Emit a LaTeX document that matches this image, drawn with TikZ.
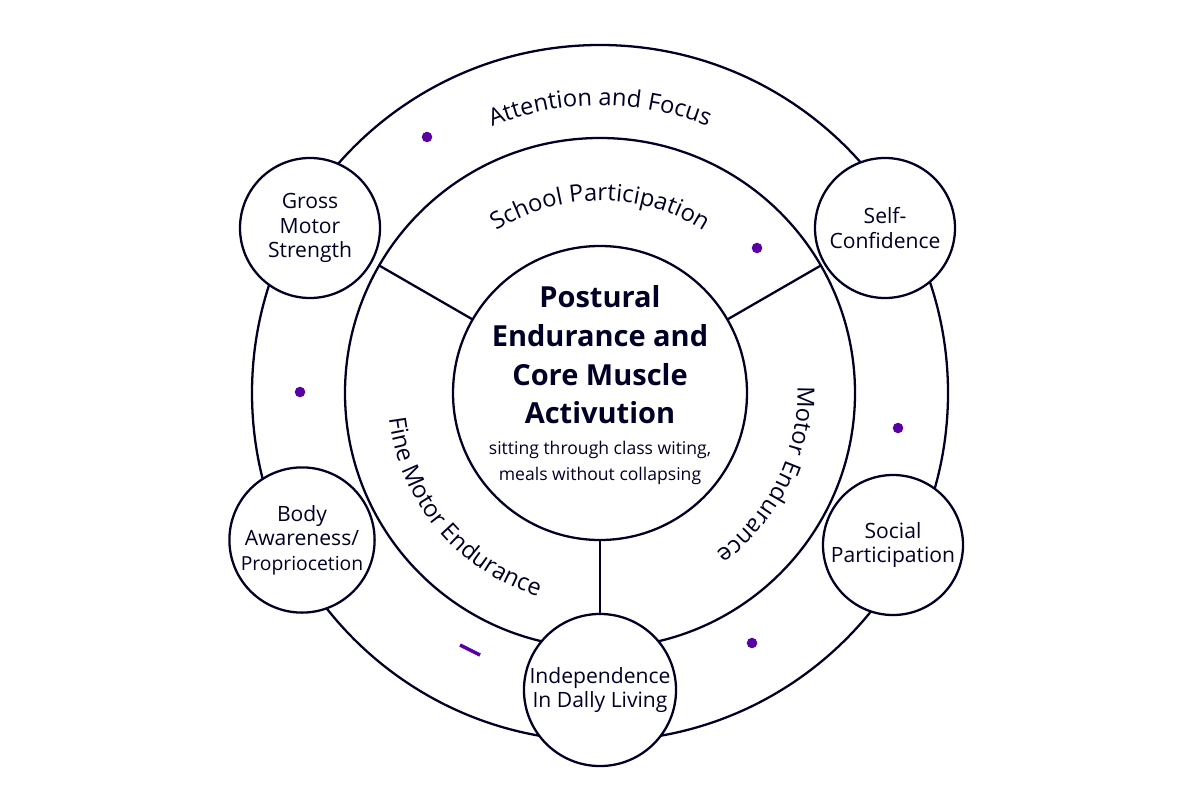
\documentclass[tikz,border=0pt]{standalone}
\usepackage{fontspec}
\setmainfont{Open Sans}
\usetikzlibrary{decorations.text}
\tikzset{
  ring/.style={draw=black!85!blue,line width=1.3pt},
  bubble/.style={circle,draw=black!85!blue,line width=1.3pt,fill=white,minimum size=2.8cm,
    align=center,inner sep=1pt,font=\fontsize{12}{14}\selectfont,text=black!85!blue},
  dot/.style={circle,fill=violet!70!blue,inner sep=0pt,minimum size=6pt},
  arclabel/.style={decorate,decoration={text along path,text align=center,
    text={|\fontsize{13.5}{15}\selectfont\color{black!85!blue}|#1}}}
}
\begin{document}
\begin{tikzpicture}
\useasboundingbox (0,0) rectangle (24,-16);
\coordinate (c) at (12,-7.86);
% rings
\draw[ring] (c) circle (6.96);
\draw[ring] (c) circle (5.1);
\node[circle,ring,minimum size=5.88cm] (core) at (c) {};
% spokes
\draw[ring] (c) ++(150:2.94) -- ++(150:2.16);
\draw[ring] (c) ++(30:2.94) -- ++(30:2.16);
\draw[ring] (c) ++(270:2.94) -- ++(270:2.16);
% centre text
\node[align=center,font=\fontsize{16.5}{22}\selectfont\bfseries,text=black!85!blue] (title) at (12,-7.1)
  {Postural\\Endurance and\\Core Muscle\\Activution};
\node[align=center,font=\fontsize{10}{15}\selectfont,text=black!85!blue] (sub) at (12,-9.26)
  {sitting through class witing,\\meals without collapsing};
% curved labels
\path[arclabel={Attention and Focus}] (c) ++(118:5.75) arc (118:62:5.75);
\path[arclabel={School Participation}] (c) ++(124:3.85) arc (124:56:3.85);
\path[arclabel={Motor Endurance}] (c) ++(20:3.95) arc (20:-72:3.95);
\path[arclabel={Fine Motor Endurance}] (c) ++(172:4.25) arc (172:268:4.25);
% outer bubbles
\node[bubble] (gross) at (6.2,-4.56) {Gross\\Motor\\Strength};
\node[bubble] (conf) at (17.7,-4.56) {Self-\\Confidence};
\node[bubble] (body) at (6.04,-10.8) {Body\\Awareness/\\\fontsize{11}{14}\selectfont Propriocetion};
\node[bubble] (social) at (17.86,-10.9) {Social\\Participation};
\node[bubble] (indep) at (12,-13.8) {Independence\\In Dally Living};
% dots
\node[dot] (d1) at (8.54,-2.74) {};
\node[dot] (d2) at (15.14,-4.96) {};
\node[dot] (d3) at (6,-7.84) {};
\node[dot] (d4) at (17.96,-8.56) {};
\node[dot] (d5) at (15.04,-12.86) {};
\draw[violet!70!blue,line width=2pt] (9.2,-12.9) -- (9.6,-13.1);
\end{tikzpicture}
\end{document}
